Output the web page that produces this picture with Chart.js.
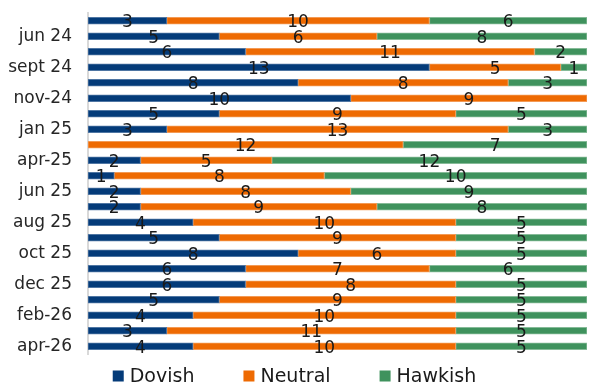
<!DOCTYPE html>
<html>
<head>
<meta charset="utf-8">
<script src="https://cdn.jsdelivr.net/npm/chart.js@4"></script>
<style>
    body { margin: 0; background: #fff; }
    #wrap { width: 589px; height: 386px; position: relative; }
</style>
</head>
<body>
<div id="wrap"><canvas id="stanceChart"></canvas></div>
<script>
// survey months, only every other one gets a label on the axis
const categories = ['may 24', 'jun 24', 'jul 24', 'sept 24', 'oct 24', 'nov-24', 'dec 24', 'jan 25',
    'mar 25', 'apr-25', 'may 25', 'jun 25', 'jul 25', 'aug 25', 'sep 25', 'oct 25', 'nov 25',
    'dec 25', 'jan 26', 'feb-26', 'mar 26', 'apr-26'];
const dovish  = [3, 5, 6, 13, 8, 10, 5, 3, 0, 2, 1, 2, 2, 4, 5, 8, 6, 6, 5, 4, 3, 4];
const neutral = [10, 6, 11, 5, 8, 9, 9, 13, 12, 5, 8, 8, 9, 10, 9, 6, 7, 8, 9, 10, 11, 10];
const hawkish = [6, 8, 2, 1, 3, 0, 5, 3, 7, 12, 10, 9, 8, 5, 5, 5, 6, 5, 5, 5, 5, 5];
const xMax = 19;

const FONT = 'DejaVu Sans';

// value labels in the middle of each segment
const segmentLabels = {
    id: 'segmentLabels',
    afterDatasetsDraw(chart) {
        const ctx = chart.ctx;
        ctx.save();
        ctx.font = '17px "' + FONT + '"';
        ctx.fillStyle = '#1a1a1a';
        ctx.textAlign = 'center';
        ctx.textBaseline = 'middle';
        chart.data.datasets.forEach((ds, i) => {
            const meta = chart.getDatasetMeta(i);
            meta.data.forEach((bar, j) => {
                const v = ds.data[j];
                if (!v) return;
                ctx.fillText(String(v), (bar.x + bar.base) / 2, bar.y + 2);
            });
        });
        ctx.restore();
    }
};

// legend drawn under the plot, spaced like the original
const bottomLegend = {
    id: 'bottomLegend',
    afterDraw(chart) {
        const ctx = chart.ctx;
        const box = 11, gap = 49, txtGap = 6;
        ctx.save();
        ctx.font = '19px "' + FONT + '"';
        ctx.textBaseline = 'middle';
        const items = chart.data.datasets.map(ds => ({
            label: ds.label, color: ds.backgroundColor, w: ctx.measureText(ds.label).width
        }));
        let total = items.reduce((s, it) => s + box + txtGap + it.w, 0) + gap * (items.length - 1);
        let x = (chart.width - total) / 2;
        const y = 376;
        items.forEach(it => {
            ctx.fillStyle = it.color;
            ctx.fillRect(x, y - box / 2, box, box);
            ctx.fillStyle = '#1a1a1a';
            ctx.fillText(it.label, x + box + txtGap, y + 1);
            x += box + txtGap + it.w + gap;
        });
        ctx.restore();
    }
};

const ctx = document.getElementById('stanceChart').getContext('2d');
new Chart(ctx, {
    type: 'bar',
    data: {
        labels: categories,
        datasets: [
            { label: 'Dovish', data: dovish, backgroundColor: '#043b79', borderColor: '#4f76a3' },
            { label: 'Neutral', data: neutral, backgroundColor: '#ee6a02', borderColor: '#f39a55' },
            { label: 'Hawkish', data: hawkish, backgroundColor: '#3f925d', borderColor: '#86bb98' }
        ]
    },
    options: {
        indexAxis: 'y',
        responsive: true,
        maintainAspectRatio: false,
        animation: false,
        datasets: {
            bar: { barThickness: 7, borderWidth: 1, borderSkipped: false }
        },
        layout: { padding: { top: 13, right: 2, bottom: 32, left: 0 } },
        scales: {
            x: { stacked: true, min: 0, max: xMax, display: false },
            y: {
                stacked: true,
                grid: { display: false, drawTicks: false },
                border: { display: true, color: '#d9d9d9', width: 2 },
                ticks: {
                    autoSkip: false,
                    padding: 16,
                    color: '#262626',
                    font: { family: FONT, size: 17 },
                    callback: function(value, index) {
                        return index % 2 === 1 ? this.getLabelForValue(value) : null;
                    }
                },
                // pin the axis where the original has it
                afterFit(scale) {
                    scale.width = 88;
                    scale.paddingTop = 0;
                    scale.paddingBottom = 0;
                }
            }
        },
        plugins: {
            legend: { display: false },
            tooltip: { enabled: false }
        }
    },
    plugins: [segmentLabels, bottomLegend]
});
</script>
</body>
</html>
